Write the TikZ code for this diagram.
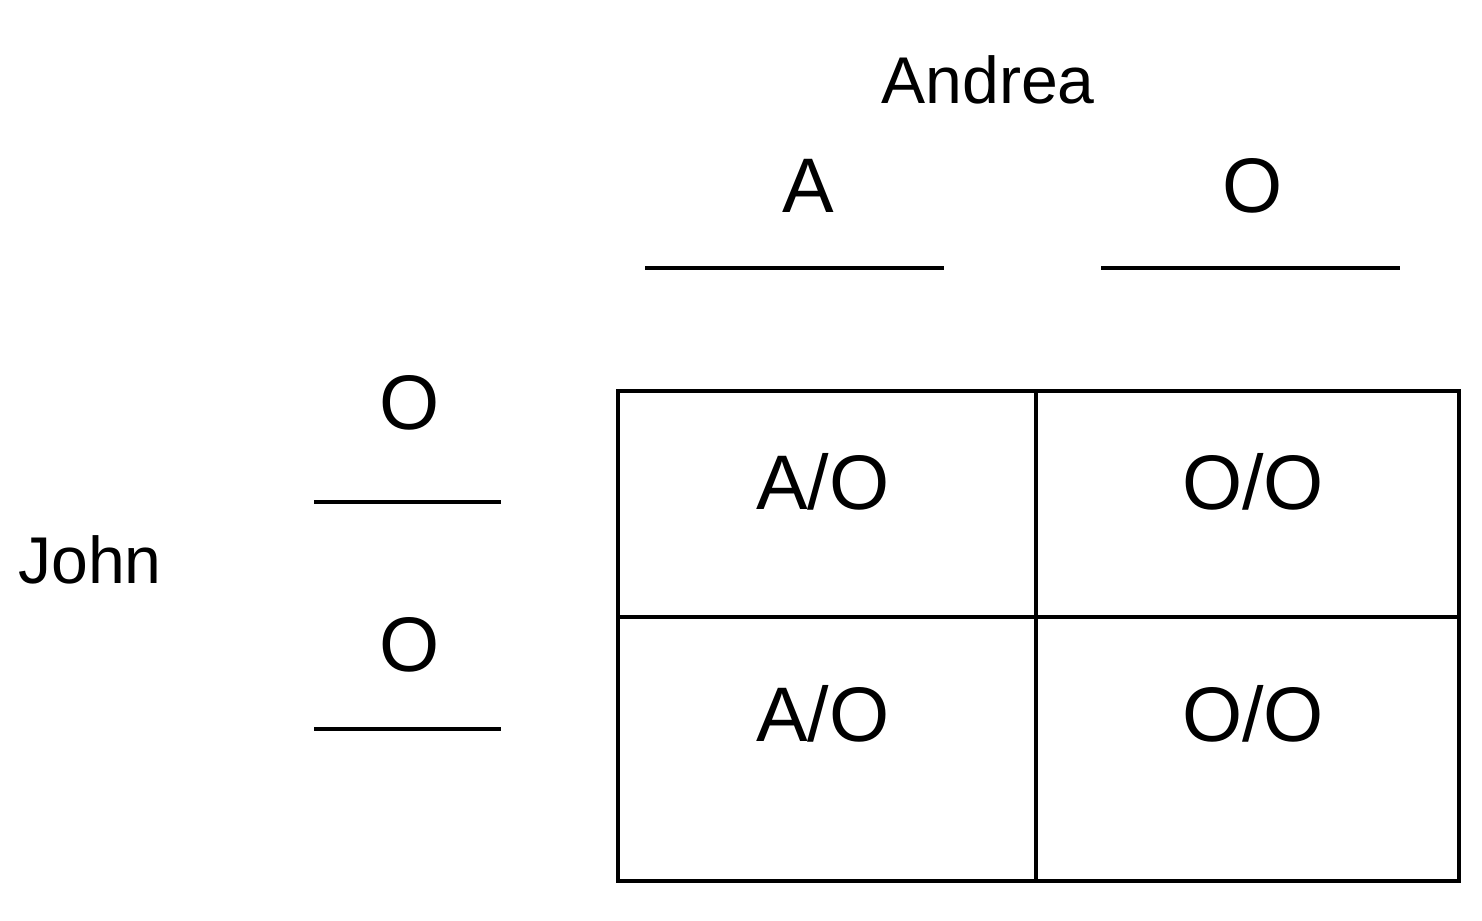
\documentclass[tikz,border=0pt]{standalone}
\usepackage{fontspec}
\setmainfont{Liberation Sans}
\begin{document}
\begin{tikzpicture}[x=0.01cm,y=-0.01cm,
  lbl/.style={anchor=base,inner sep=0pt,font=\fontsize{18.8pt}{22pt}\selectfont},
  big/.style={anchor=base,inner sep=0pt,font=\fontsize{22pt}{26pt}\selectfont},
  rule/.style={line width=0.95pt,black},
  grid/.style={line width=0.95pt,black}]
\useasboundingbox (0,0) rectangle (1482,920);
\node[lbl] (andrea) at (988,103) {Andrea};
\node[big] (colA) at (808,212) {A};
\node[big] (colO) at (1253,212) {O};
\coordinate (la1) at (645,268); \coordinate (la2) at (944,268);
\coordinate (lo1) at (1101,268); \coordinate (lo2) at (1400,268);
\draw[rule] (la1) -- (la2);
\draw[rule] (lo1) -- (lo2);
\node[lbl] (john) at (90,583) {John};
\node[big] (rowO1) at (410,429) {O};
\node[big] (rowO2) at (410,671) {O};
\coordinate (r1a) at (314,502); \coordinate (r1b) at (501,502);
\coordinate (r2a) at (314,729); \coordinate (r2b) at (501,729);
\draw[rule] (r1a) -- (r1b);
\draw[rule] (r2a) -- (r2b);
\coordinate (tl) at (618,391); \coordinate (br) at (1459,881);
\draw[grid] (tl) rectangle (br);
\coordinate (vt) at (1036,391); \coordinate (vb) at (1036,881);
\coordinate (hl) at (618,617); \coordinate (hr) at (1459,617);
\draw[grid] (vt) -- (vb);
\draw[grid] (hl) -- (hr);
\node[big] (c11) at (823,509) {A/O};
\node[big] (c12) at (1253,509) {O/O};
\node[big] (c21) at (823,741) {A/O};
\node[big] (c22) at (1253,741) {O/O};
\end{tikzpicture}
\end{document}
